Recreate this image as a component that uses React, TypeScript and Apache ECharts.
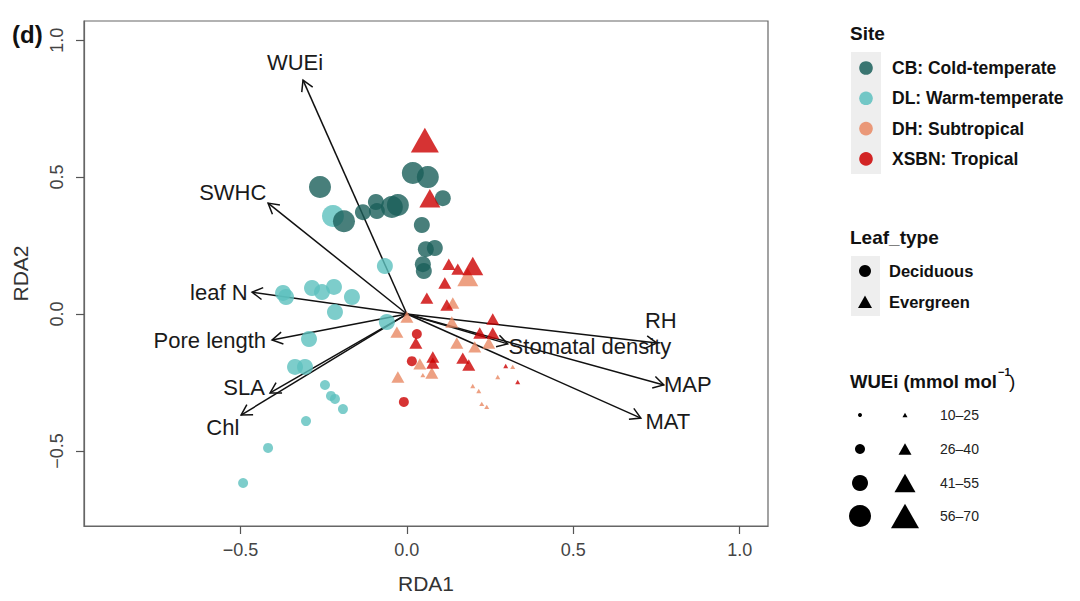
import React, { useEffect, useRef } from "react";
import * as echarts from "echarts";

// ---------- data ----------
// points: [RDA1, RDA2, WUEi size class (1..4)]
const cbDeciduous = [
  [-0.261, 0.464, 4], [-0.189, 0.339, 4], [-0.132, 0.372, 3], [-0.093, 0.409, 3],
  [-0.09, 0.376, 3], [-0.045, 0.391, 4], [-0.027, 0.398, 4], [0.018, 0.515, 4],
  [0.063, 0.5, 4], [0.108, 0.423, 3], [0.045, 0.325, 3], [0.057, 0.237, 3],
  [0.084, 0.241, 3], [0.048, 0.182, 3], [0.051, 0.157, 3],
];
const dlDeciduous = [
  [-0.222, 0.358, 4], [-0.066, 0.175, 3], [-0.372, 0.077, 3], [-0.363, 0.062, 3],
  [-0.285, 0.095, 3], [-0.255, 0.08, 3], [-0.219, 0.099, 3], [-0.165, 0.062, 3],
  [-0.216, 0.007, 3], [-0.294, -0.091, 3], [-0.06, -0.029, 3], [-0.336, -0.193, 3],
  [-0.306, -0.193, 3], [-0.246, -0.259, 2], [-0.228, -0.299, 2], [-0.216, -0.31, 2],
  [-0.192, -0.347, 2], [-0.303, -0.391, 2], [-0.417, -0.489, 2], [-0.492, -0.617, 2],
];
const dhEvergreen = [
  [0.183, 0.135, 3], [0.138, 0.04, 2], [0.0, -0.011, 2], [-0.03, -0.066, 2],
  [0.135, -0.029, 2], [0.15, -0.106, 2], [0.204, -0.12, 2], [0.246, -0.106, 2],
  [0.039, -0.182, 2], [0.075, -0.215, 2], [0.048, -0.223, 1], [-0.027, -0.23, 2],
  [0.318, -0.193, 1], [0.273, -0.23, 1], [0.198, -0.263, 1], [0.216, -0.281, 1],
  [0.225, -0.328, 1], [0.24, -0.339, 1],
];
const xsbnEvergreen = [
  [0.054, 0.635, 4], [0.069, 0.423, 3], [0.126, 0.182, 2], [0.153, 0.164, 2],
  [0.198, 0.175, 3], [0.114, 0.113, 2], [0.06, 0.058, 2], [0.12, 0.033, 2],
  [0.258, -0.018, 2], [0.027, -0.106, 2], [0.219, -0.069, 2], [0.258, -0.069, 2],
  [0.078, -0.157, 2], [0.078, -0.179, 2], [0.168, -0.161, 2], [0.186, -0.186, 2],
  [0.297, -0.19, 1], [0.333, -0.248, 1],
];
const xsbnDeciduous = [
  [0.03, -0.073, 2], [0.015, -0.172, 2], [-0.009, -0.321, 2],
];

// biplot arrows
const arrowNames = ["WUEi", "SWHC", "leaf N", "Pore length", "SLA", "Chl", "RH", "Stomatal density", "MAP", "MAT"];
const arrowX = [-0.312, -0.417, -0.465, -0.405, -0.411, -0.498, 0.751, 0.303, 0.772, 0.703];
const arrowY = [0.854, 0.405, 0.08, -0.095, -0.288, -0.369, -0.106, -0.109, -0.259, -0.38];
const labelX = [-0.336, -0.523, -0.565, -0.592, -0.489, -0.553, 0.763, 0.55, 0.844, 0.784];
const labelY = [0.92, 0.445, 0.08, -0.095, -0.27, -0.416, -0.022, -0.117, -0.259, -0.394];

const tickValues = [-0.5, 0, 0.5, 1.0];

const siteNames = ["CB: Cold-temperate", "DL: Warm-temperate", "DH: Subtropical", "XSBN: Tropical"];
const siteColors = ["#1a5f5a", "#5cc0be", "#e98863", "#cc0000"];
const leafTypes = ["Deciduous", "Evergreen"];
const wueiClasses = ["10\u201325", "26\u201340", "41\u201355", "56\u201370"];
const circleSizes = [4, 10, 16, 22];
const triangleSizes = [5, 13, 21, 28];

const FONT = "'Liberation Sans', Arial, Helvetica, sans-serif";

function fmt(v: number) {
  if (v === 0) return "0.0";
  return (v < 0 ? "\u2212" : "") + Math.abs(v).toFixed(1);
}

export default function App() {
  const ref = useRef<HTMLDivElement>(null);
  useEffect(() => {
    if (!ref.current) return;
    const chart = echarts.init(ref.current, undefined, { renderer: "svg" });

    const scatter = (name: string, data: number[][], color: string, tri: boolean) => ({
      type: "scatter",
      name,
      data,
      symbol: tri ? "triangle" : "circle",
      symbolSize: (v: number[]) => {
        const s = tri ? triangleSizes[v[2] - 1] : circleSizes[v[2] - 1];
        return tri ? [s, s * 0.88] : s;
      },
      itemStyle: { color, opacity: 0.8 },
      emphasis: { disabled: true },
      silent: true,
      clip: false,
    });

    const legendEls: any[] = [];
    legendEls.push({ type: "text", x: 850, y: 33, style: { text: "Site", font: `bold 19px ${FONT}`, fill: "#111", verticalAlign: "middle" } });
    legendEls.push({ type: "rect", shape: { x: 851, y: 52, width: 30, height: 122 }, style: { fill: "#eeeeee" } });
    siteNames.forEach((n, i) => {
      legendEls.push({ type: "circle", shape: { cx: 866, cy: 68 + 30.3 * i, r: 6.8 }, style: { fill: siteColors[i], opacity: 0.85 } });
      legendEls.push({ type: "text", x: 892, y: 68 + 30.3 * i, style: { text: n, font: `bold 17.5px ${FONT}`, fill: "#111", verticalAlign: "middle" } });
    });
    legendEls.push({ type: "text", x: 850, y: 237, style: { text: "Leaf_type", font: `bold 19px ${FONT}`, fill: "#111", verticalAlign: "middle" } });
    legendEls.push({ type: "rect", shape: { x: 851, y: 256, width: 29, height: 60 }, style: { fill: "#eeeeee" } });
    legendEls.push({ type: "circle", shape: { cx: 865, cy: 271, r: 6 }, style: { fill: "#000" } });
    legendEls.push({ type: "polygon", shape: { points: [[858, 308], [872, 308], [865, 295.5]] }, style: { fill: "#000" } });
    leafTypes.forEach((n, i) => {
      legendEls.push({ type: "text", x: 889, y: 271 + 31 * i, style: { text: n, font: `bold 16.5px ${FONT}`, fill: "#111", verticalAlign: "middle" } });
    });
    legendEls.push({ type: "text", x: 997, y: 381, style: { text: "WUEi (mmol mol", font: `bold 18.5px ${FONT}`, fill: "#111", align: "right", verticalAlign: "middle" } });
    legendEls.push({ type: "text", x: 998, y: 372, style: { text: "\u22121", font: `bold 11px ${FONT}`, fill: "#111", align: "left", verticalAlign: "middle" } });
    legendEls.push({ type: "text", x: 1009, y: 381, style: { text: ")", font: `19px ${FONT}`, fill: "#111", align: "left", verticalAlign: "middle" } });
    const rowY = [415, 449, 483, 516];
    wueiClasses.forEach((n, i) => {
      const y = rowY[i];
      legendEls.push({ type: "circle", shape: { cx: 860, cy: y, r: circleSizes[i] / 2 }, style: { fill: "#000" } });
      const w = triangleSizes[i];
      const h = w * 0.88;
      legendEls.push({ type: "polygon", shape: { points: [[905 - w / 2, y + h / 2], [905 + w / 2, y + h / 2], [905, y - h / 2]] }, style: { fill: "#000" } });
      legendEls.push({ type: "text", x: 940, y, style: { text: n, font: `14px ${FONT}`, fill: "#222", verticalAlign: "middle" } });
    });
    legendEls.push({ type: "text", x: 12, y: 34, style: { text: "(d)", font: `bold 24px ${FONT}`, fill: "#111", verticalAlign: "middle" } });

    const axisCommon = {
      type: "value",
      axisLine: { show: true, onZero: false, lineStyle: { color: "#666", width: 1.2 } },
      axisTick: { show: true, length: 8, customValues: tickValues, lineStyle: { color: "#555", width: 1.2 } },
      splitLine: { show: false },
      nameTextStyle: { fontFamily: FONT, fontSize: 21, color: "#333" },
      nameLocation: "middle",
    };

    chart.setOption({
      animation: false,
      grid: { left: 84, right: 312, top: 21, bottom: 75, show: true, borderColor: "#666", borderWidth: 1.2, backgroundColor: "transparent" },
      xAxis: {
        ...axisCommon,
        min: -0.97,
        max: 1.085,
        name: "RDA1",
        nameGap: 47,
        axisLabel: { customValues: tickValues, formatter: fmt, fontFamily: FONT, fontSize: 18, color: "#444", margin: 15 },
      },
      yAxis: {
        ...axisCommon,
        min: -0.774,
        max: 1.07,
        name: "RDA2",
        nameGap: 53,
        axisLabel: { customValues: tickValues, formatter: fmt, fontFamily: FONT, fontSize: 18, color: "#444", margin: 18, rotate: 90 },
      },
      series: [
        scatter("DL", dlDeciduous, siteColors[1], false),
        scatter("CB", cbDeciduous, siteColors[0], false),
        scatter("DH", dhEvergreen, siteColors[2], true),
        scatter("XSBN", xsbnEvergreen, siteColors[3], true),
        scatter("XSBN-d", xsbnDeciduous, siteColors[3], false),
        {
          type: "custom",
          name: "arrows",
          silent: true,
          clip: false,
          data: arrowNames.map((n, i) => [arrowX[i], arrowY[i]]),
          renderItem: (params: any, api: any) => {
            const o = api.coord([0, 0]);
            const e = api.coord([api.value(0), api.value(1)]);
            const a = Math.atan2(e[1] - o[1], e[0] - o[0]);
            const L = 12;
            const phi = Math.PI / 6;
            const p1 = [e[0] - L * Math.cos(a - phi), e[1] - L * Math.sin(a - phi)];
            const p2 = [e[0] - L * Math.cos(a + phi), e[1] - L * Math.sin(a + phi)];
            return {
              type: "group",
              children: [
                { type: "line", shape: { x1: o[0], y1: o[1], x2: e[0], y2: e[1] }, style: { stroke: "#111", lineWidth: 1.5 } },
                { type: "polyline", shape: { points: [p1, e, p2] }, style: { stroke: "#111", lineWidth: 1.5, fill: null } },
              ],
            };
          },
        },
        {
          type: "custom",
          name: "arrowLabels",
          silent: true,
          clip: false,
          data: arrowNames.map((n, i) => ({ name: n, value: [labelX[i], labelY[i]] })),
          renderItem: (params: any, api: any) => {
            const c = api.coord([api.value(0), api.value(1)]);
            return {
              type: "text",
              x: c[0],
              y: c[1],
              style: { text: arrowNames[params.dataIndex], font: `22px ${FONT}`, fill: "#1a1a1a", align: "center", verticalAlign: "middle" },
            };
          },
        },
      ],
      graphic: { elements: legendEls },
    });
    return () => chart.dispose();
  }, []);
  return <div ref={ref} style={{ position: "absolute", left: 0, top: 0, width: 1080, height: 601 }} />;
}
